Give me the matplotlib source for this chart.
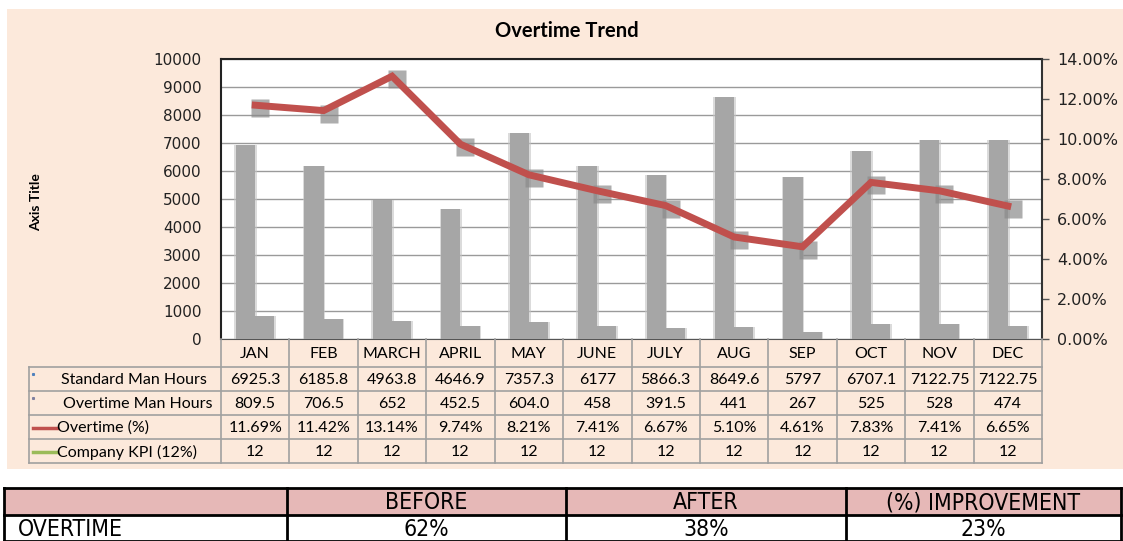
import numpy as np
import matplotlib.pyplot as plt
import matplotlib.transforms as mtransforms
from matplotlib.patches import Rectangle
from matplotlib.ticker import MultipleLocator, FuncFormatter

# --------------------------------------------------------------------------
# Data
# --------------------------------------------------------------------------
months = ['JAN', 'FEB', 'MARCH', 'APRIL', 'MAY', 'JUNE', 'JULY', 'AUG',
          'SEP', 'OCT', 'NOV', 'DEC']
std_hours = [6925.3, 6185.8, 4963.8, 4646.9, 7357.3, 6177, 5866.3, 8649.6,
             5797, 6707.1, 7122.75, 7122.75]
ot_hours = [809.5, 706.5, 652, 452.5, 604.0, 458, 391.5, 441, 267, 525, 528, 474]
ot_pct = [11.69, 11.42, 13.14, 9.74, 8.21, 7.41, 6.67, 5.10, 4.61, 7.83, 7.41, 6.65]
kpi = [12] * 12

std_text = ['6925.3', '6185.8', '4963.8', '4646.9', '7357.3', '6177', '5866.3',
            '8649.6', '5797', '6707.1', '7122.75', '7122.75']
ot_text = ['809.5', '706.5', '652', '452.5', '604.0', '458', '391.5', '441',
           '267', '525', '528', '474']
row_labels = ['Standard Man Hours', 'Overtime Man Hours', 'Overtime (%)',
              'Company KPI (12%)']

summary_head = ['', 'BEFORE', 'AFTER', '(%) IMPROVEMENT']
summary_row = ['OVERTIME', '62%', '38%', '23%']

# --------------------------------------------------------------------------
W, H = 1123, 541
PEACH = '#FCE9DB'
GRID = '#A0A0A0'
RED = '#C0504D'
GREEN = '#9BBB59'
TABLE_FONT = ['Lato', 'DejaVu Sans']

fig = plt.figure(figsize=(W / 100, H / 100), dpi=100)
fig.patch.set_facecolor('white')


def px(x0, y0, x1, y1):
    """pixel box (top-left origin) -> figure fraction rect"""
    return [x0 / W, 1 - y1 / H, (x1 - x0) / W, (y1 - y0) / H]


# peach chart area
fig.add_artist(Rectangle((7 / W, 1 - 469 / H), (W - 7) / W, (469 - 9) / H,
                         transform=fig.transFigure, fc=PEACH, ec='none', zorder=0))

# plot area
PL, PR, PT, PB = 221, 1042, 59, 339
ax = fig.add_axes(px(PL, PT, PR, PB))
ax.set_facecolor('white')
x = np.arange(len(months))
bw = 0.28

ax.bar(x - bw / 2, std_hours, width=bw + 0.05, color='#C4C4C4', alpha=0.6, zorder=2)
ax.bar(x - bw / 2, std_hours, width=bw, color='#A6A6A6', zorder=3)
ax.bar(x + bw / 2, ot_hours, width=bw + 0.05, color='#C4C4C4', alpha=0.6, zorder=2)
ax.bar(x + bw / 2, ot_hours, width=bw, color='#A6A6A6', zorder=3)

ax.set_xlim(-0.5, len(months) - 0.5)
ax.set_ylim(0, 10000)
ax.yaxis.set_major_locator(MultipleLocator(1000))
ax.grid(axis='y', color='#9A9A9A', lw=1.0, zorder=1)
ax.set_axisbelow(True)
ax.set_xticks([])
ax.tick_params(axis='y', length=0, pad=14, labelsize=11, labelcolor='#222222')
for s in ['left', 'top']:
    ax.spines[s].set_color('#222222')
    ax.spines[s].set_linewidth(1.5)
ax.spines['right'].set_visible(False)
ax.spines['bottom'].set_color('#555555')

ax2 = ax.twinx()
ax2.set_ylim(0, 14)
ax2.yaxis.set_major_locator(MultipleLocator(2))
ax2.yaxis.set_major_formatter(FuncFormatter(lambda v, p: f'{v:.2f}%'))
ax2.tick_params(axis='y', direction='out', length=5, width=1, color='#555555',
                pad=6, labelsize=11.5, labelcolor='#222222')
ax2.spines['right'].set_color('#333333')
ax2.spines['right'].set_linewidth(1.5)
for s in ['left', 'top', 'bottom']:
    ax2.spines[s].set_visible(False)

shadow_tr = mtransforms.offset_copy(ax2.transData, fig=fig, x=5, y=-3, units='dots')
ax2.plot(x, ot_pct, ls='none', marker='s', ms=13, color='#8A8A8A', alpha=0.7,
         mec='none', transform=shadow_tr, zorder=3)
ax2.plot(x, ot_pct, color=RED, lw=5, solid_joinstyle='miter', zorder=4)

fig.text(567 / W, 1 - 31 / H, 'Overtime Trend', ha='center', va='center',
         fontsize=14.5, fontweight='bold', family=TABLE_FONT)
fig.text(36 / W, 1 - 202 / H, 'Axis Title', ha='center', va='center', rotation=90,
         fontsize=10, fontweight='bold', family=TABLE_FONT)

# --------------------------------------------------------------------------
# Data table under the chart and summary table (drawn in pixel space)
# --------------------------------------------------------------------------
ov = fig.add_axes([0, 0, 1, 1], facecolor='none')
ov.set_xlim(0, W)
ov.set_ylim(H, 0)
ov.axis('off')

cw = (PR - PL) / len(months)
col_x = [PL + cw * i for i in range(len(months) + 1)]
rows_y = [339, 367, 391, 415, 439, 463]
LX = 29

for yy in rows_y[1:]:
    ov.plot([LX, PR], [yy, yy], color=GRID, lw=1.2)
for xx in col_x:
    ov.plot([xx, xx], [rows_y[0], rows_y[-1]], color=GRID, lw=1.2)
ov.plot([LX, LX], [rows_y[1], rows_y[-1]], color=GRID, lw=1.2)

for i, m in enumerate(months):
    cx = col_x[i] + cw / 2
    ov.text(cx, (rows_y[0] + rows_y[1]) / 2 + 1, m, ha='center', va='center',
            fontsize=11.5, family=TABLE_FONT)
    vals = [std_text[i], ot_text[i], f'{ot_pct[i]:.2f}%', str(kpi[i])]
    for r, v in enumerate(vals):
        ov.text(cx, (rows_y[r + 1] + rows_y[r + 2]) / 2 + 1, v, ha='center',
                va='center', fontsize=11.5, family=TABLE_FONT)

label_x = [61, 63, 57, 57]
for r, lab in enumerate(row_labels):
    ym = (rows_y[r + 1] + rows_y[r + 2]) / 2 + 1
    ov.text(label_x[r], ym, lab, ha='left', va='center', fontsize=11.5,
            family=TABLE_FONT)
# legend keys
ov.plot([33], [rows_y[1] + 7], 's', ms=1.2, color='#4F81BD')
ov.plot([33], [rows_y[2] + 7], 's', ms=1.2, color='#7F7F9F')
ov.plot([33, 57], [(rows_y[3] + rows_y[4]) / 2 + 1] * 2, color=RED, lw=2.5)
ov.plot([33, 57], [(rows_y[4] + rows_y[5]) / 2 + 1] * 2, color=GREEN, lw=2.5)

# summary table
sx = [4, 287, 566, 846, 1121]
sy = [488, 515, 541]
ov.add_patch(Rectangle((sx[0], sy[0]), sx[-1] - sx[0], sy[1] - sy[0],
                       fc='#E6B8B7', ec='none'))
for yy in sy:
    ov.plot([sx[0], sx[-1]], [yy, yy], color='black', lw=2)
for xx in sx:
    ov.plot([xx, xx], [sy[0], sy[-1]], color='black', lw=2)
narrow = dict(family='DejaVu Sans', fontstretch='condensed', fontsize=16.5)
for j in range(4):
    cx = (sx[j] + sx[j + 1]) / 2
    ov.text(cx, (sy[0] + sy[1]) / 2 + 1, summary_head[j], ha='center',
            va='center', **narrow)
    if j == 0:
        ov.text(18, (sy[1] + sy[2]) / 2 + 1, summary_row[j], ha='left',
                va='center', **narrow)
    else:
        ov.text(cx, (sy[1] + sy[2]) / 2 + 1, summary_row[j], ha='center',
                va='center', **narrow)

fig.savefig('out.png', dpi=100)
